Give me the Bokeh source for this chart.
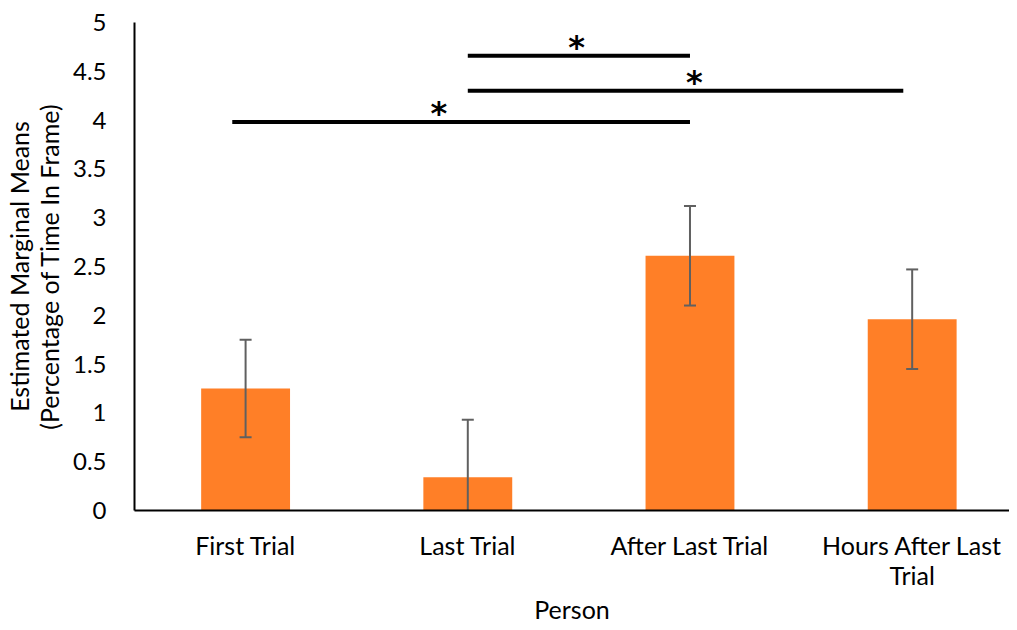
from bokeh.plotting import figure
from bokeh.models import Range1d, FixedTicker, ColumnDataSource
from bokeh.core.properties import value
from bokeh.embed import file_html
from bokeh.resources import INLINE

# ---- data ----
categories = ["First Trial", "Last Trial", "After Last Trial", "Hours After Last\nTrial"]
means = [1.25, 0.34, 2.61, 1.96]
err_low = [0.75, 0.0, 2.10, 1.45]
err_high = [1.75, 0.93, 3.12, 2.47]
y_ticks = [0, 0.5, 1, 1.5, 2, 2.5, 3, 3.5, 4, 4.5, 5]
y_tick_labels = ["0", "0.5", "1", "1.5", "2", "2.5", "3", "3.5", "4", "4.5", "5"]
# significance brackets (category positions) and their heights
sig_start = [1.0, 1.0, -0.06]
sig_end = [2.0, 2.96, 2.0]
sig_y = [4.66, 4.30, 3.98]
star_x = [1.49, 2.02, 0.87]
x_title = "Person"
y_title = "Estimated Marginal Means\n(Percentage of Time In Frame)"

FONT = "Lato"
xpos = list(range(len(categories)))

p = figure(width=1009, height=628, output_backend="svg", toolbar_location=None,
           x_range=Range1d(-0.5, 3.438), y_range=Range1d(0, 5),
           min_border_left=123, min_border_right=0, min_border_top=22, min_border_bottom=118)
p.outline_line_color = None
p.xgrid.grid_line_color = None
p.ygrid.grid_line_color = None
p.background_fill_color = "white"
p.border_fill_color = "white"

src = ColumnDataSource(dict(x=xpos, top=means, lo=err_low, hi=err_high))
p.vbar(x="x", top="top", bottom=0, width=0.4, source=src, fill_color="#FF7F27", line_color=None)

# error bars
p.segment(x0="x", y0="lo", x1="x", y1="hi", source=src, line_color="#606060", line_width=2)
cap = 0.027
p.segment(x0=[x - cap for x in xpos], y0=err_high, x1=[x + cap for x in xpos], y1=err_high,
          line_color="#606060", line_width=2)
lo_idx = [i for i in xpos if err_low[i] > 0]
p.segment(x0=[xpos[i] - cap for i in lo_idx], y0=[err_low[i] for i in lo_idx],
          x1=[xpos[i] + cap for i in lo_idx], y1=[err_low[i] for i in lo_idx],
          line_color="#606060", line_width=2)

# significance lines and stars
p.segment(x0=sig_start, y0=sig_y, x1=sig_end, y1=sig_y, line_color="black", line_width=4)
p.text(x=star_x, y=sig_y, text=["*"] * len(star_x), text_font=value("DejaVu Sans"),
       text_font_size="32px", text_font_style="bold", text_align="center",
       text_baseline="alphabetic", y_offset=-9, text_color="black")

# axes
p.xaxis.ticker = FixedTicker(ticks=xpos)
p.xaxis.major_label_overrides = {i: c for i, c in zip(xpos, categories)}
p.xaxis.major_tick_line_color = None
p.xaxis.minor_tick_line_color = None
p.xaxis.axis_line_color = "black"
p.xaxis.axis_line_width = 2
p.xaxis.major_label_text_font = FONT
p.xaxis.major_label_text_font_size = "25px"
p.xaxis.major_label_text_color = "black"
p.xaxis.major_label_text_line_height = 1.0
p.xaxis.major_label_standoff = 13
p.xaxis.axis_label = x_title
p.xaxis.axis_label_text_font = FONT
p.xaxis.axis_label_text_font_size = "25px"
p.xaxis.axis_label_text_font_style = "normal"
p.xaxis.axis_label_text_color = "black"
p.xaxis.axis_label_standoff = 1

p.yaxis.ticker = FixedTicker(ticks=y_ticks)
p.yaxis.major_label_overrides = {t: l for t, l in zip(y_ticks, y_tick_labels)}
p.yaxis.major_tick_line_color = None
p.yaxis.minor_tick_line_color = None
p.yaxis.axis_line_color = "black"
p.yaxis.axis_line_width = 2
p.yaxis.major_label_text_font = FONT
p.yaxis.major_label_text_font_size = "24px"
p.yaxis.major_label_text_color = "black"
p.yaxis.major_label_standoff = 22
p.yaxis.axis_label = y_title
p.yaxis.axis_label_text_font = FONT
p.yaxis.axis_label_text_font_size = "25px"
p.yaxis.axis_label_text_font_style = "normal"
p.yaxis.axis_label_text_color = "black"
p.yaxis.axis_label_text_line_height = 1.0
p.yaxis.axis_label_standoff = 6

html = file_html(p, INLINE)
html = html.replace("<head>", "<head><style>html,body{overflow:hidden;} body{margin:8px 8px 0 8px;}</style>", 1)
open("out.html", "w").write(html)
